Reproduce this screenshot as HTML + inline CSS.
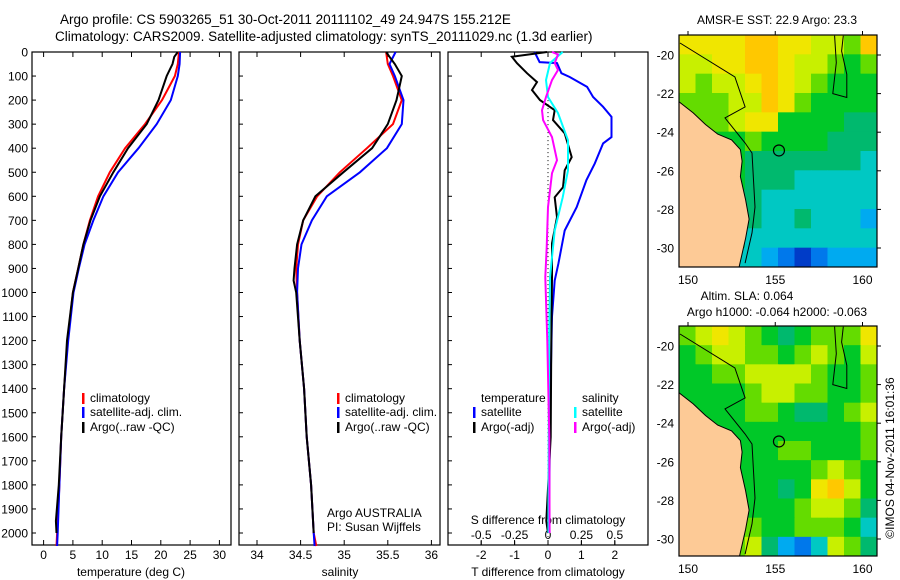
<!DOCTYPE html>
<html><head><meta charset="utf-8">
<style>
html,body{margin:0;padding:0;background:#fff;}
svg{display:block;font-family:"Liberation Sans",sans-serif;}
text{fill:#000;}
</style></head>
<body>
<svg id="chart" width="900" height="580" viewBox="0 0 900 580" xmlns="http://www.w3.org/2000/svg">
<text x="60" y="24" font-size="13.5">Argo profile: CS 5903265_51 30-Oct-2011 20111102_49 24.947S 155.212E</text>
<text x="55" y="41" font-size="13.5">Climatology: CARS2009. Satellite-adjusted climatology: synTS_20111029.nc (1.3d earlier)</text>
<g id="layer"></g>
</svg>
<script>
// ---------- profile data ----------
const tDepth = [0,50,100,200,300,400,500,600,700,800,900,1000,1200,1400,1600,1800,2000,2054];
const tClim  = [23.1,22.9,22.4,20.2,17.3,13.9,11.3,9.3,7.9,6.8,5.9,5.0,4.1,3.5,3.0,2.7,2.3,2.2];
const tSat   = [23.3,23.2,22.9,21.7,19.3,16.2,12.7,10.2,8.5,7.0,6.0,5.1,4.2,3.5,3.0,2.7,2.4,2.3];
const tArgoDepth = [0,20,50,100,200,300,400,500,600,700,800,900,1000,1200,1400,1600,1800,1950,2000];
const tArgo  = [22.9,22.3,22.0,21.0,19.6,17.6,14.4,11.9,9.6,8.0,6.8,5.9,5.0,4.0,3.5,3.0,2.6,2.1,2.2];

const sDepth = tDepth;
const sClim  = [35.48,35.50,35.56,35.66,35.56,35.26,34.95,34.69,34.53,34.47,34.45,34.46,34.49,34.54,34.57,34.62,34.65,34.68];
const sSat   = [35.59,35.52,35.58,35.68,35.66,35.49,35.18,34.80,34.63,34.51,34.47,34.46,34.49,34.54,34.57,34.62,34.65,34.66];
const sArgoDepth = [0,20,50,100,200,300,400,500,600,700,800,900,950,1000,1200,1400,1600,1800,2000];
const sArgo  = [35.48,35.52,35.58,35.66,35.60,35.50,35.32,34.99,34.67,34.53,34.46,34.43,34.42,34.45,34.49,34.54,34.57,34.62,34.65];

const dtSatDepth = [0,42,46,88,104,145,187,228,270,354,380,463,533,645,742,880,950,1100,1500,2000];
const dtSat  = [-0.4,-0.25,0.27,0.4,0.65,1.17,1.35,1.65,1.9,1.9,1.65,1.4,1.15,0.86,0.5,0.31,0.2,0.12,0.06,0.03];
const dtArgoDepth = [0,20,46,88,125,158,200,242,283,338,437,492,562,604,687,796,937,1200,1600,1950,2000];
const dtArgo = [-0.03,-1.08,-0.93,-0.63,-0.33,-0.48,-0.24,0.2,0.15,0.5,0.71,0.5,0.45,0.2,0.27,0.12,0.12,0.1,0.08,-0.05,0.0];
const dsSatDepth = [0,46,117,187,254,367,492,604,742,937,1200,1600,2000];
const dsSat  = [0.11,0.015,-0.015,0,0.075,0.15,0.15,0.11,0.05,0.015,0.008,0.005,0.003];
const dsArgoDepth = [0,10,46,75,117,187,242,283,354,450,504,645,812,937,1200,1600,2000];
const dsArgo = [0.03,0.075,0.05,0.075,0.03,-0.015,-0.045,-0.037,0.03,0.067,0.03,0,-0.01,-0.02,-0.005,0.01,0.012];

const depthTicks = [0,100,200,300,400,500,600,700,800,900,1000,1100,1200,1300,1400,1500,1600,1700,1800,1900,2000];
const tTicks = [0,5,10,15,20,25,30];
const sTicks = [34,34.5,35,35.5,36];
const sTickLabels = ["34","34.5","35","35.5","36"];
const dTTicks = [-2,-1,0,1,2];
const dSTicks = [-0.5,-0.25,0,0.25,0.5];
const dSTickLabels = ["-0.5","-0.25","0","0.25","0.5"];

// ---------- map data (value index 0..10) ----------
const sstGrid = [
[8,8,8,8,9,9,8,8,7,7,6,9],
[7,7,8,8,9,9,8,7,7,6,5,6],
[7,6,7,7,8,9,8,7,6,5,5,5],
[6,6,6,7,7,9,8,6,5,5,5,5],
[6,6,6,7,8,8,5,5,5,5,4,4],
[5,5,5,5,6,5,5,5,5,4,4,4],
[5,5,5,5,4,4,4,4,4,4,4,3],
[5,5,5,5,4,4,4,3,3,3,3,3],
[4,4,4,4,4,3,3,3,3,3,3,3],
[4,4,4,4,4,3,3,4,3,3,3,2],
[4,4,4,4,3,3,3,3,3,3,3,3],
[3,3,3,3,3,2,1,0,1,2,2,2]];
const slaGrid = [
[6,7,8,7,6,5,4,5,6,6,6,8],
[5,6,7,7,6,6,5,6,7,6,5,7],
[5,5,6,6,7,7,7,7,6,5,5,6],
[5,5,5,5,6,7,7,6,6,5,5,6],
[5,5,5,5,6,6,5,4,4,5,6,7],
[5,5,5,5,5,5,5,5,5,5,5,6],
[5,5,5,5,5,5,6,6,5,5,5,6],
[5,5,5,5,5,5,5,5,6,7,6,5],
[5,5,5,5,5,5,4,5,8,9,7,5],
[5,5,5,5,5,5,5,6,7,7,6,4],
[5,5,5,5,6,5,5,6,6,6,5,3],
[5,5,5,6,7,4,2,1,3,7,6,4]];
const lonTicks = [150,155,160];
const latTicks = [-20,-22,-24,-26,-28,-30];
const coastLon = [149.45,150.3,151.0,151.7,152.5,153.0,153.1,153.0,153.3,153.5,153.3,152.9,149.45];
const coastLat = [-22.4,-23.0,-23.6,-24.1,-24.4,-24.9,-25.5,-26.3,-27.5,-28.5,-29.5,-31.1,-31.1];
const shelfLon = [149.54,152.69,153.27,152.12,153.27,153.67,153.84,153.67,153.27];
const shelfLat = [-19.38,-21.14,-22.69,-23.26,-24.56,-25.08,-27.88,-29.22,-30.78];
const reefLon = [158.4,158.5,158.3,159.1,159.1,158.8,158.9];
const reefLat = [-19.0,-20.4,-22.0,-22.2,-21.0,-19.8,-19.0];
const floatLon = 155.212, floatLat = -24.947;

const NS = "http://www.w3.org/2000/svg";
const layer = document.getElementById('layer');
function mk(tag, attrs, parent){ const e=document.createElementNS(NS,tag); for(const k in attrs) e.setAttribute(k,attrs[k]); (parent||layer).appendChild(e); return e; }
function txt(s,x,y,anchor,size,parent){ const t=mk('text',{x:x,y:y,'text-anchor':anchor||'start','font-size':size||12},parent); t.textContent=s; return t; }

const TOP=52, BOT=545;
const yD = d => TOP + d*0.2405;

const P1={l:32,r:231, x:v=>43.6+v*5.86};
const P2={l:239,r:440, x:v=>257+(v-34)*87.2};
const P3={l:448,r:648, x:v=>548+v*33.4};
const P3s = v => 548 + v*133.6;

function frame(P,name){
  const r=mk('rect',{x:P.l,y:TOP,width:P.r-P.l,height:BOT-TOP,fill:'#fff',stroke:'#000','stroke-width':1.2});
  
  
}
frame(P1,'temperature-panel'); frame(P2,'salinity-panel'); frame(P3,'difference-panel');

depthTicks.forEach(d=>{
  const y=yD(d);
  mk('line',{x1:P1.l,x2:P1.l+4,y1:y,y2:y,stroke:'#000'});
  mk('line',{x1:P2.l,x2:P2.l+4,y1:y,y2:y,stroke:'#000'});
  mk('line',{x1:P3.l,x2:P3.l+4,y1:y,y2:y,stroke:'#000'});
  const t=txt(String(d),28,y+4.5,'end',12);
  
  
});
function xTicks(P,vals,labels,fx,name){
  vals.forEach((v,i)=>{
    const x=fx(v);
    mk('line',{x1:x,x2:x,y1:BOT,y2:BOT-5,stroke:'#000'});
    mk('line',{x1:x,x2:x,y1:TOP,y2:TOP+5,stroke:'#000'});
    const t=txt(labels[i],x,559,'middle',12);
    
    
  });
}
xTicks(P1,tTicks,tTicks.map(String),P1.x,'temperature-tick-label');
xTicks(P2,sTicks,sTickLabels,P2.x,'salinity-tick-label');
xTicks(P3,dTTicks,dTTicks.map(String),P3.x,'t-difference-tick-label');
dSTicks.forEach((v,i)=>{
  const x=P3s(v);
  mk('line',{x1:x,x2:x,y1:BOT,y2:BOT-4,stroke:'#000'});
  const t=txt(dSTickLabels[i],x,539,'middle',12);
  
  
});
let at=txt('temperature (deg C)',131,576,'middle',12);  
at=txt('salinity',340,576,'middle',12);  
at=txt('T difference from climatology',548,576,'middle',12);  
at=txt('S difference from climatology',548,524,'middle',12);  
at=txt('Argo AUSTRALIA',327,517,'start',12);  
at=txt('PI: Susan Wijffels',327,531,'start',12);  

const zl=mk('line',{x1:548,x2:548,y1:yD(200),y2:BOT,stroke:'#000','stroke-dasharray':'1,3','stroke-width':1});
 

function series(depths, vals, fx, color, name, w){
  const pts = depths.map((d,i)=>fx(vals[i]).toFixed(1)+','+yD(d).toFixed(1)).join(' ');
  const p=mk('polyline',{points:pts,fill:'none',stroke:color,'stroke-width':w||2,'stroke-linejoin':'miter'});
  
  
}
series(tDepth,tClim,P1.x,'#ff0000','temperature-climatology-line');
series(tDepth,tSat,P1.x,'#0000ff','temperature-satellite-line');
series(tArgoDepth,tArgo,P1.x,'#000000','temperature-argo-line');
series(sDepth,sClim,P2.x,'#ff0000','salinity-climatology-line');
series(sDepth,sSat,P2.x,'#0000ff','salinity-satellite-line');
series(sArgoDepth,sArgo,P2.x,'#000000','salinity-argo-line');
series(dtSatDepth,dtSat,P3.x,'#0000ff','t-diff-satellite-line');
series(dtArgoDepth,dtArgo,P3.x,'#000000','t-diff-argo-line');
series(dsSatDepth,dsSat,P3s,'#00ffff','s-diff-satellite-line');
series(dsArgoDepth,dsArgo,P3s,'#ff00ff','s-diff-argo-line');

function legendItem(x,y,color,label,name){
  const g=mk('g',{});
  
  
  mk('rect',{x:x,y:y-9,width:2.5,height:11,fill:color},g);
  txt(label,x+8,y,'start',12,g);
}
legendItem(82,402,'#ff0000','climatology','legend-climatology');
legendItem(82,416,'#0000ff','satellite-adj. clim.','legend-satellite');
legendItem(82,431,'#000000','Argo(..raw -QC)','legend-argo');
legendItem(337,402,'#ff0000','climatology','legend-climatology-2');
legendItem(337,416,'#0000ff','satellite-adj. clim.','legend-satellite-2');
legendItem(337,431,'#000000','Argo(..raw -QC)','legend-argo-2');
at=txt('temperature',481,402,'start',12);  
at=txt('salinity',582,402,'start',12);  
legendItem(473,416,'#0000ff','satellite','legend-t-satellite');
legendItem(473,431,'#000000','Argo(-adj)','legend-t-argo');
legendItem(574,416,'#00ffff','satellite','legend-s-satellite');
legendItem(574,431,'#ff00ff','Argo(-adj)','legend-s-argo');

// ---------- maps ----------
const cmap=[[0,60,200],[0,120,235],[0,170,240],[0,200,195],[0,185,110],[0,200,40],[100,220,0],[200,240,0],[240,230,0],[255,200,0],[255,170,0]];
function drawMap(grid, top, bottom, name){
  const L=679,R=877;
  const lx=v=>688+(v-150)*17.45;
  const ly=v=>top+20+(-20-v)*19.3;
  const g=mk('g',{});  
  const clip='clip-'+name;
  const defs=mk('defs',{},g);
  const cp=mk('clipPath',{id:clip},defs);
  mk('rect',{x:L,y:top,width:R-L,height:bottom-top},cp);
  const inner=mk('g',{'clip-path':'url(#'+clip+')'},g);
  const cw=(R-L)/grid[0].length, ch=(bottom-top)/grid.length;
  grid.forEach((row,ri)=>row.forEach((v,ci)=>{
    const c=cmap[v];
    const r=mk('rect',{x:(L+ci*cw).toFixed(2),y:(top+ri*ch).toFixed(2),width:(cw+0.5).toFixed(2),height:(ch+0.5).toFixed(2),fill:`rgb(${c[0]},${c[1]},${c[2]})`},inner);
    
    
  }));
  const pts=coastLon.map((lo,i)=>lx(lo).toFixed(1)+','+ly(coastLat[i]).toFixed(1)).join(' ');
  const land=mk('polygon',{points:pts,fill:'#fdca96',stroke:'#000','stroke-width':1},inner);
   
  const shelf=mk('polyline',{points:shelfLon.map((lo,i)=>lx(lo).toFixed(1)+','+ly(shelfLat[i]).toFixed(1)).join(' '),fill:'none',stroke:'#000','stroke-width':1},inner);
   
  const reef=mk('polyline',{points:reefLon.map((lo,i)=>lx(lo).toFixed(1)+','+ly(reefLat[i]).toFixed(1)).join(' '),fill:'none',stroke:'#000','stroke-width':1},inner);
   
  const fl=mk('circle',{cx:lx(floatLon),cy:ly(floatLat),r:5.5,fill:'none',stroke:'#000','stroke-width':1.2},g);
   
  mk('rect',{x:L,y:top,width:R-L,height:bottom-top,fill:'none',stroke:'#000','stroke-width':1.2},g);
  lonTicks.forEach(v=>{
    const x=lx(v);
    mk('line',{x1:x,x2:x,y1:top,y2:top-4,stroke:'#000'},g);
    const t=txt(String(v),x,bottom+17,'middle',12,g);
     
  });
  latTicks.forEach(v=>{
    const y=ly(v);
    mk('line',{x1:R,x2:R+4,y1:y,y2:y,stroke:'#000'},g);
    const t=txt(String(v),674,y+4.5,'end',12,g);
     
  });
}
drawMap(sstGrid,35,267,'sst-map');
drawMap(slaGrid,326,556,'sla-map');
at=txt('AMSR-E SST: 22.9 Argo: 23.3',777,24,'middle',12);  
at=txt('Altim. SLA: 0.064',747,300,'middle',12);  
at=txt('Argo h1000: -0.064 h2000: -0.063',777,316,'middle',12);  
at=txt('©IMOS 04-Nov-2011 16:01:36',0,0,'middle',12);
at.setAttribute('transform','translate(894,458) rotate(-90)');
 
</script>
</body></html>
